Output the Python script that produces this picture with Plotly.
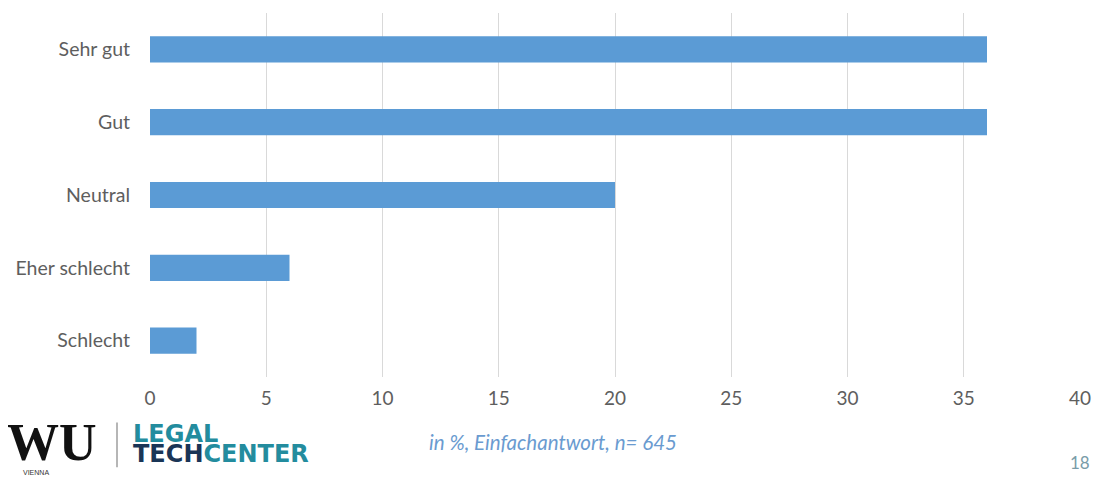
import plotly.graph_objects as go

categories = ["Sehr gut", "Gut", "Neutral", "Eher schlecht", "Schlecht"]
values = [36, 36, 20, 6, 2]
x_ticks = [0, 5, 10, 15, 20, 25, 30, 35, 40]

BAR_COLOR = "#5B9BD5"
TEXT_GRAY = "#5E5E5E"
TEAL = "#238C9E"
NAVY = "#1A3556"

# the page body adds an 8px offset, so the figure is drawn 8px smaller
W, H = 1092, 471
L, R, T, B = 142, 20, 4.5, 101.5
PW, PH = W - L - R, H - T - B


def px_x(wx):
    # window pixel -> paper x
    return (wx - 8 - L) / PW


def px_y(wy):
    # window pixel -> paper y
    return (H - B - (wy - 8)) / PH


fig = go.Figure()
fig.add_trace(
    go.Bar(
        x=values,
        y=categories,
        orientation="h",
        marker=dict(color=BAR_COLOR, line=dict(width=0)),
        hoverinfo="x+y",
    )
)

fig.update_layout(
    width=W,
    height=H,
    margin=dict(l=L, r=R, t=T, b=B),
    paper_bgcolor="white",
    plot_bgcolor="white",
    bargap=0.64,
    showlegend=False,
    font=dict(family="Lato, Open Sans, sans-serif", size=19.5, color=TEXT_GRAY),
)
fig.update_xaxes(
    range=[0, 40],
    tickvals=x_ticks,
    showgrid=True,
    gridcolor="#D9D9D9",
    gridwidth=1,
    zeroline=False,
    showline=False,
    ticks="",
    ticklabelstandoff=8,
    tickfont=dict(size=19, color=TEXT_GRAY),
)
fig.update_yaxes(
    categoryorder="array",
    categoryarray=categories[::-1],
    showgrid=False,
    zeroline=False,
    showline=False,
    ticks="",
    ticklabelstandoff=19,
    tickfont=dict(size=19.5, color=TEXT_GRAY),
)

# footer: logo, note, page number
fig.add_annotation(
    text="<b>WU</b>", xref="paper", yref="paper",
    x=px_x(52), y=px_y(443), xanchor="center", yanchor="middle", showarrow=False,
    font=dict(family="Liberation Serif, DejaVu Serif, serif", size=52, color="#111111"),
)
fig.add_annotation(
    text="VIENNA", xref="paper", yref="paper",
    x=px_x(36), y=px_y(473), xanchor="center", yanchor="middle", showarrow=False,
    font=dict(family="Liberation Sans, sans-serif", size=7, color="#333333"),
)
fig.add_shape(
    type="line", xref="paper", yref="paper",
    x0=px_x(117), x1=px_x(117), y0=px_y(423), y1=px_y(468),
    line=dict(color="#9E9E9E", width=1.5),
)
fig.add_annotation(
    text="<b>LEGAL</b>", xref="paper", yref="paper",
    x=px_x(131), y=px_y(435), xanchor="left", yanchor="middle", showarrow=False,
    font=dict(family="DejaVu Sans, sans-serif", size=24, color=TEAL),
)
fig.add_annotation(
    text=f"<b><span style='color:{NAVY}'>TECH</span>CENTER</b>", xref="paper", yref="paper",
    x=px_x(131), y=px_y(455), xanchor="left", yanchor="middle", showarrow=False,
    font=dict(family="DejaVu Sans, sans-serif", size=24, color=TEAL),
)
fig.add_annotation(
    text="<i>in %, Einfachantwort, n= 645</i>", xref="paper", yref="paper",
    x=px_x(427), y=px_y(443), xanchor="left", yanchor="middle", showarrow=False,
    font=dict(family="Lato, Open Sans, sans-serif", size=20.5, color="#6A9BD0"),
)
fig.add_annotation(
    text="18", xref="paper", yref="paper",
    x=px_x(1080), y=px_y(463), xanchor="center", yanchor="middle", showarrow=False,
    font=dict(family="Lato, Open Sans, sans-serif", size=17, color="#7A9CA8"),
)

fig.write_html("out.html")
